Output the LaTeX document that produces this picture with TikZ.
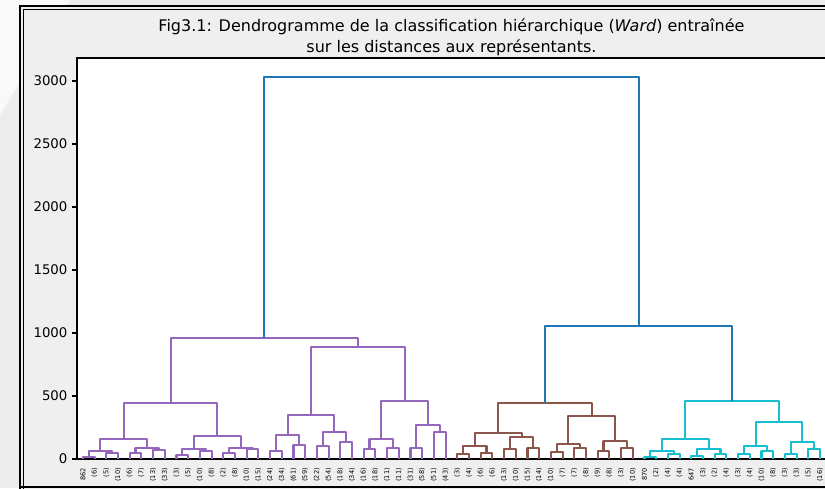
\documentclass[tikz,border=0pt]{standalone}
\usepackage{fontspec}
\setmainfont{DejaVu Sans}
\definecolor{cpurple}{HTML}{9467BD}
\definecolor{cbrown}{HTML}{8C564B}
\definecolor{ccyan}{HTML}{17BECF}
\definecolor{cblue}{HTML}{1F77B4}
\definecolor{figbg}{HTML}{EFEFEF}
\definecolor{outerbg}{HTML}{EDEDED}
\definecolor{shine}{HTML}{F9F9F9}
\newcommand\dlk[5]{\draw[link] (#1,#2) -- (#1,#5) -- (#3,#5) -- (#3,#4);}
\begin{document}
\begin{tikzpicture}[x=1pt,y=-1pt,
  link/.style={line width=2.1pt,line join=round},
  leaflab/.style={rotate=90,anchor=east,inner sep=0pt,font=\fontsize{6.6}{7}\selectfont},
  ticklab/.style={anchor=east,inner sep=0pt,font=\fontsize{13.3}{15}\selectfont},
  titlelab/.style={anchor=base,inner sep=0pt,font=\fontsize{16}{19}\selectfont},
  spine/.style={line width=1.05pt,black},
  frameline/.style={black}]
\useasboundingbox (0,0) rectangle (825,488);
% screenshot surroundings
\fill[outerbg] (0,0) rectangle (825,488);
\fill[shine] (0,0) -- (70,0) -- (0,115) -- cycle;
% figure window
\fill[figbg] (20,6) rectangle (830,490);
\draw[frameline,line width=2pt] (20,490) -- (20,6) -- (830,6);
\draw[frameline,line width=0.9pt] (23.5,490) -- (23.5,9.5) -- (830,9.5);
\draw[frameline,line width=1.5pt] (20,487) -- (830,487);
% axes
\fill[white] (77,58) rectangle (830,459);
\draw[spine] (830,58) -- (77,58) -- (77,459) -- (830,459);
\foreach \v in {0,500,...,3000} {
  \draw[spine] (72.3,{459-0.126*\v}) -- (77,{459-0.126*\v});
  \node[ticklab] (t\v) at (67.6,{459-0.126*\v}) {\v};
}
% title
\node[titlelab] (title1) at (451.5,31) {Fig3.1: Dendrogramme de la classification hiérarchique (\textit{Ward}) entraînée};
\node[titlelab] (title2) at (451.5,52) {sur les distances aux représentants.};
% leaf labels
\foreach \l [count=\i from 0] in {862,(6),(5),(10),(6),(7),(13),(33),(3),(5),(10),(8),(2),(8),(10),(15),(24),(34),(61),(59),(22),(54),(18),(34),(16),(18),(11),(11),(31),(58),(51),(43),(3),(4),(6),(6),(13),(10),(15),(14),(10),(7),(7),(8),(9),(8),(3),(10),870,(2),(4),(4),647,(3),(2),(4),(3),(4),(10),(8),(3),(3),(5),(16)}
  \node[leaflab] (leaf\i) at ({77+1.17*(10*\i+5)},468) {\l};
% dendrogram
\begin{scope}[shift={(77,459)},x=1.17pt,y=0.126pt]
 \begin{scope}[cpurple]
  \foreach \h [count=\k from 0] in {18,45,45,71,32,63,45,80,63,111,103,132,79,90,90,212}
    {\dlk{20*\k+5}{0}{20*\k+15}{0}{\h}}
  \foreach \xa/\ha/\xb/\hb/\h in {10/18/30/45/63, 50/45/70/71/90, 90/32/110/63/77, 130/45/150/80/88,
      170/63/190/111/190, 210/103/230/132/217, 250/79/270/90/159, 290/90/310/212/270,
      20/63/60/90/156, 100/77/140/88/183, 180/190/220/217/349, 260/159/300/270/463,
      40/156/120/183/447, 200/349/280/463/891, 80/447/240/891/958}
    {\dlk{\xa}{\ha}{\xb}{\hb}{\h}}
 \end{scope}
 \begin{scope}[cbrown]
  \foreach \h [count=\k from 16] in {40,50,77,90,58,90,63,90}
    {\dlk{20*\k+5}{0}{20*\k+15}{0}{\h}}
  \foreach \xa/\ha/\xb/\hb/\h in {330/40/350/50/106, 370/77/390/90/172, 410/58/430/90/116, 450/63/470/90/143,
      340/106/380/172/209, 420/116/460/143/341, 360/209/440/341/442}
    {\dlk{\xa}{\ha}{\xb}{\hb}{\h}}
 \end{scope}
 \begin{scope}[ccyan]
  \foreach \h [count=\k from 24] in {18,40,24,40,40,63,40,79}
    {\dlk{20*\k+5}{0}{20*\k+15}{0}{\h}}
  \foreach \xa/\ha/\xb/\hb/\h in {490/18/510/40/66, 530/24/550/40/77, 570/40/590/63/106, 610/40/630/79/137,
      500/66/540/77/159, 580/106/620/137/296, 520/159/600/296/463}
    {\dlk{\xa}{\ha}{\xb}{\hb}{\h}}
 \end{scope}
 \begin{scope}[cblue]
  \dlk{400}{442}{560}{463}{1058}
  \dlk{160}{958}{480}{1058}{3032}
 \end{scope}
\end{scope}
\end{tikzpicture}
\end{document}
